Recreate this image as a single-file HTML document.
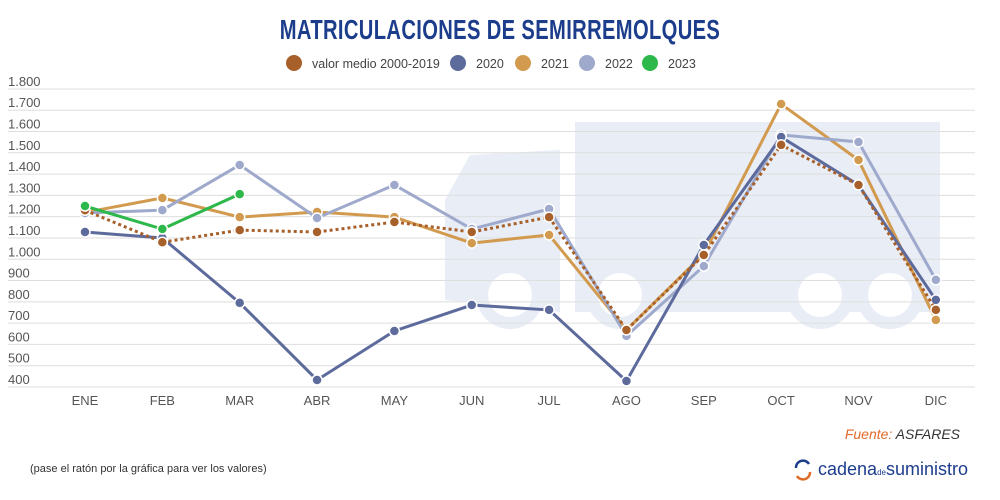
<!DOCTYPE html>
<html><head><meta charset="utf-8"><style>
body{margin:0;width:1000px;height:500px;background:#fff;font-family:"Liberation Sans",sans-serif;overflow:hidden;position:relative}
#title{position:absolute;left:0;width:1000px;top:14px;text-align:center;font-size:28px;font-weight:bold;color:#1c3c8c;transform:scaleX(0.72);letter-spacing:0.5px}
</style></head><body>
<div id="title">MATRICULACIONES DE SEMIRREMOLQUES</div>
<svg id="chart" width="1000" height="500" style="position:absolute;left:0;top:0"></svg>
<script>
const months=["ENE","FEB","MAR","ABR","MAY","JUN","JUL","AGO","SEP","OCT","NOV","DIC"];
const yTicks=[400,500,600,700,800,900,1000,1100,1200,1300,1400,1500,1600,1700,1800];
const yTickLabels=["400","500","600","700","800","900","1.000","1.100","1.200","1.300","1.400","1.500","1.600","1.700","1.800"];
const seriesNames=["valor medio 2000-2019","2020","2021","2022","2023"];
const avgVals=[1230,1080,1137,1128,1175,1128,1198,668,1020,1537,1349,762];
const v2020=[1128,1100,795,433,663,785,762,428,1067,1574,1349,809];
const v2021=[1220,1288,1198,1222,1198,1076,1114,668,1025,1729,1466,715];
const v2022=[1217,1231,1443,1194,1349,1142,1236,640,968,1584,1551,903];
const v2023=[1250,1142,1306];
const colors=["#a8602a","#5d6a9c","#d29a4e","#9ea9cc","#2db84b"];
const svg=document.getElementById('chart');
const NS="http://www.w3.org/2000/svg";
function el(t,a,p){const e=document.createElementNS(NS,t);for(const k in a)e.setAttribute(k,a[k]);(p||svg).appendChild(e);return e;}
const X=i=>85+i*77.35;
const Y=v=>387-(v-400)*0.2129;
// background truck
const bg=el('g',{fill:'#e8edf6'});


el('rect',{x:575,y:122,width:365,height:190},bg);
el('path',{d:'M445 300 L445 200 L470 155 L560 150 L560 312 Z'},bg);
[[510,295],[620,295],[820,295],[890,295]].forEach(c=>{el('circle',{cx:c[0],cy:c[1],r:34,fill:'#e8edf6'},bg);el('circle',{cx:c[0],cy:c[1],r:22,fill:'#fff'},bg);});
// grid + y labels
yTicks.forEach((t,i)=>{
 const g=el('line',{x1:8,x2:975,y1:Y(t),y2:Y(t),stroke:'#dedede','stroke-width':1});
 
 
 const tx=el('text',{x:8,y:Y(t)-3,'font-size':13,fill:'#555'});
 tx.textContent=yTickLabels[i];
 
 
});
months.forEach((m,i)=>{
 const tx=el('text',{x:X(i),y:405,'font-size':13,fill:'#555','text-anchor':'middle'});
 tx.textContent=m;
 
 
});
const data=[avgVals,v2020,v2021,v2022,v2023];
[2,3,1,0,4].forEach(s=>{
 const vals=data[s];
 const g=el('g',{});
 
 
 el('polyline',{points:vals.map((v,i)=>X(i)+','+Y(v)).join(' '),fill:'none',stroke:colors[s],'stroke-width':3,'stroke-dasharray':s===0?'3,3':'none'},g);
 vals.forEach((v,i)=>{
  const c=el('circle',{cx:X(i),cy:Y(v),r:5,fill:colors[s],stroke:'#fff','stroke-width':1.5},g);
  
  
 });
});
// legend
const lx=[294,458,523,587,650];
seriesNames.forEach((n,i)=>{
 const g=el('g',{});
 
 
 el('circle',{cx:lx[i],cy:63,r:8,fill:colors[i]},g);
 const t=el('text',{x:lx[i]+18,y:68,'font-size':12.5,fill:'#444'},g);
 t.textContent=n;
});
const f=el('text',{x:960,y:439,'font-size':14,'font-style':'italic','text-anchor':'end',fill:'#333'});
f.innerHTML='<tspan fill="#e06a2a">Fuente:</tspan> ASFARES';


const h=el('text',{x:30,y:472,'font-size':11,fill:'#333'});
h.textContent='(pase el ratón por la gráfica para ver los valores)';


const lg=el('g',{});


el('path',{d:'M796 468 A7 7 0 0 1 809 464',fill:'none',stroke:'#1c3c8c','stroke-width':2.5},lg);
el('path',{d:'M810 472 A7 7 0 0 1 797 476',fill:'none',stroke:'#e06a2a','stroke-width':2.5},lg);
const lt=el('text',{x:818,y:475,'font-size':18,fill:'#1c3c8c'},lg);
lt.innerHTML='cadena<tspan font-size="8">de</tspan>suministro';
</script>
</body></html>
